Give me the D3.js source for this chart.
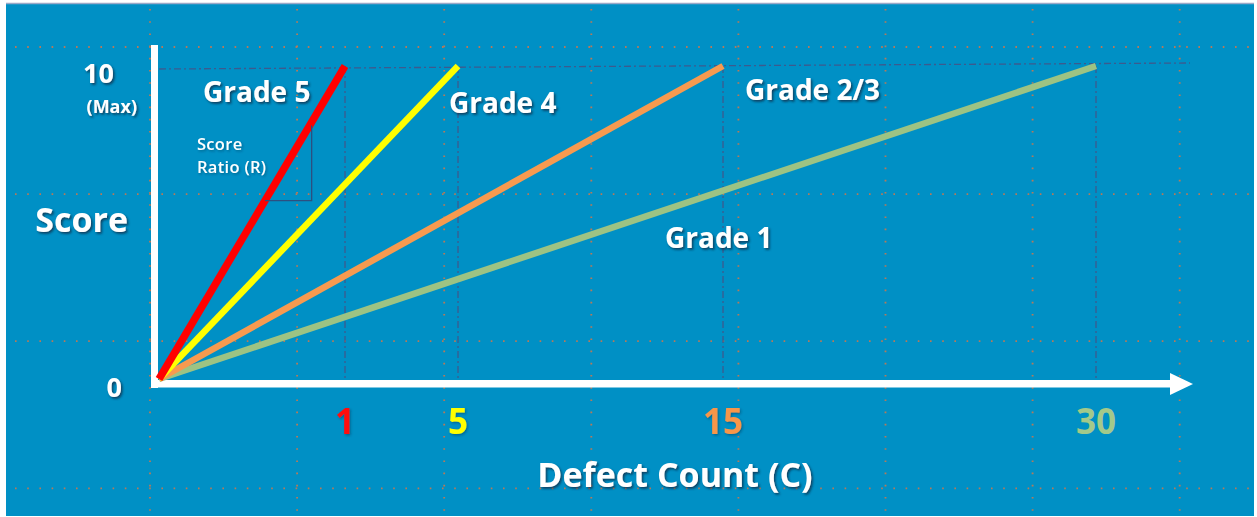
<!DOCTYPE html>
<html>
<head>
<meta charset="utf-8">
<script src="https://cdn.jsdelivr.net/npm/d3@7"></script>
<style>
  html, body { margin: 0; padding: 0; background: #ffffff; }
  svg { display: block; }
  text { font-family: "Open Sans", Lato, sans-serif; }
</style>
</head>
<body>
<svg id="chart" width="1257" height="517"></svg>
<script>
// Grades and the defect count at which each one reaches the maximum score
const grades = ["Grade 5", "Grade 4", "Grade 2/3", "Grade 1"];
const maxDefects = [1, 5, 15, 30];
const maxScore = 10;
const scoreTicks = ["0", "10"];
const gradeColors = ["#ff0000", "#ffff00", "#f79a4f", "#9dc383"];
const tickColors = ["#ff1010", "#ffff00", "#f7964a", "#a3c98a"];

const W = 1257, H = 517;
const svg = d3.select("#chart");

// Defect axis is stretched per segment so each grade gets its own stop
const x = d3.scaleLinear().domain([0, ...maxDefects]).range([159, 345, 458, 723, 1096]);
const y = d3.scaleLinear().domain([0, maxScore]).range([379, 66]);

const defs = svg.append("defs");
const shadow = defs.append("filter").attr("id", "shadow")
  .attr("x", "-20%").attr("y", "-20%").attr("width", "140%").attr("height", "160%");
shadow.append("feDropShadow").attr("dx", 1.6).attr("dy", 1.8)
  .attr("stdDeviation", 1.1).attr("flood-color", "#0b2540").attr("flood-opacity", 0.75);
const softShadow = defs.append("filter").attr("id", "softShadow")
  .attr("x", "-20%").attr("y", "-20%").attr("width", "140%").attr("height", "160%");
softShadow.append("feDropShadow").attr("dx", 1.2).attr("dy", 1.4)
  .attr("stdDeviation", 1).attr("flood-color", "#0b2540").attr("flood-opacity", 0.4);

// Panel
svg.append("rect").attr("x", 0).attr("y", 0).attr("width", W).attr("height", H).attr("fill", "#ffffff");
svg.append("rect").attr("x", 6).attr("y", 4).attr("width", W - 9).attr("height", H - 5)
  .attr("fill", "#0090c5");
svg.append("line").attr("x1", 6).attr("x2", W - 3).attr("y1", 3.5).attr("y2", 3.5)
  .attr("stroke", "#9aa8c8").attr("stroke-width", 1.5);

// Dotted drawing grid
const gridStep = 147.1;
const grid = svg.append("g").attr("stroke", "#e8743c").attr("stroke-width", 1.8)
  .attr("stroke-dasharray", "1.6 10.6").attr("opacity", 0.8);
d3.range(0, 9).map(i => 150 + (i - 1) * gridStep).filter(v => v > 8 && v < W - 5).forEach(v => {
  grid.append("line").attr("x1", v).attr("x2", v).attr("y1", 9).attr("y2", H - 2);
});
d3.range(0, 4).map(i => 47 + i * gridStep).forEach(v => {
  grid.append("line").attr("x1", 15).attr("x2", W - 4).attr("y1", v).attr("y2", v);
});

// Guides at the maximum score and each grade's defect limit
const guides = svg.append("g").attr("stroke", "#3c5a8e").attr("stroke-width", 1.3)
  .attr("stroke-dasharray", "7 3 2 3").attr("fill", "none");
guides.append("line").attr("x1", x(0)).attr("x2", 1190)
  .attr("y1", y(maxScore) + 3).attr("y2", y(maxScore) - 3);
maxDefects.forEach(c => {
  guides.append("line").attr("x1", x(c)).attr("x2", x(c))
    .attr("y1", y(maxScore)).attr("y2", y(0) + 6);
});

// Axes
const axisG = svg.append("g").attr("fill", "#ffffff");
axisG.append("rect").attr("x", 151).attr("y", 45).attr("width", 7).attr("height", y(0) + 9 - 45);
axisG.append("rect").attr("x", 151).attr("y", 380).attr("width", 1172 - 151).attr("height", 7.5);
axisG.append("path").attr("d", "M1170,373 L1193,384 L1170,395 Z");

// Score lines, one per grade
const lineGen = d3.line().x(d => x(d[0])).y(d => y(d[1]));
const lines = svg.append("g").attr("fill", "none").attr("stroke-linecap", "butt");
const order = [3, 2, 1, 0];
order.forEach(i => {
  lines.append("path")
    .attr("d", lineGen([[0, 0], [maxDefects[i], maxScore]]))
    .attr("stroke", gradeColors[i])
    .attr("stroke-width", i === 0 ? 7.5 : 6.5);
});

// Rise/run triangle on the Grade 5 line
const ratioTop = 8.1, ratioBottom = 5.7;
const cAt = s => s / maxScore * maxDefects[0];
svg.append("path")
  .attr("d", `M${x(cAt(ratioTop)) + 2},${y(ratioTop)} L${x(cAt(ratioTop)) + 2},${y(ratioBottom)} L${x(cAt(ratioBottom))},${y(ratioBottom)}`)
  .attr("fill", "none").attr("stroke", "#2d4f80").attr("stroke-width", 1.3);
const ratioText = svg.append("text").attr("fill", "#ffffff").attr("font-size", 16.5)
  .attr("font-weight", 600).attr("filter", "url(#softShadow)").style("letter-spacing", "0.3px");
ratioText.append("tspan").attr("x", 197).attr("y", 150).text("Score");
ratioText.append("tspan").attr("x", 197).attr("y", 173).text("Ratio (R)");

// Grade labels
const labelSpots = [[203, 102], [449, 113], [745, 100], [665, 248]];
svg.append("g").selectAll("text").data(grades).join("text")
  .attr("x", (d, i) => labelSpots[i][0]).attr("y", (d, i) => labelSpots[i][1])
  .attr("fill", "#ffffff").attr("font-size", 28).attr("font-weight", 700)
  .attr("filter", "url(#shadow)").text(d => d);

// Score axis labels
const yLab = svg.append("g").attr("fill", "#ffffff").attr("font-weight", 700)
  .attr("text-anchor", "end").attr("filter", "url(#shadow)");
yLab.append("text").attr("x", 114).attr("y", y(+scoreTicks[1]) + 17).attr("font-size", 27).text(scoreTicks[1]);
yLab.append("text").attr("x", 137).attr("y", y(+scoreTicks[1]) + 47).attr("font-size", 18).text("(Max)");
yLab.append("text").attr("x", 122).attr("y", y(+scoreTicks[0]) + 18).attr("font-size", 27).text(scoreTicks[0]);
yLab.append("text").attr("x", 128).attr("y", 232).attr("font-size", 34).text("Score");

// Defect count ticks, coloured by grade
svg.append("g").selectAll("text").data(maxDefects).join("text")
  .attr("x", d => x(d)).attr("y", 434)
  .attr("text-anchor", "middle").attr("font-size", 35).attr("font-weight", 700)
  .attr("fill", (d, i) => tickColors[i])
  .attr("filter", (d, i) => i < 3 ? "url(#softShadow)" : null)
  .text(d => d);

svg.append("text").attr("x", 675).attr("y", 487).attr("text-anchor", "middle")
  .attr("fill", "#ffffff").attr("font-size", 34).attr("font-weight", 700)
  .attr("filter", "url(#shadow)").text("Defect Count (C)");
</script>
</body>
</html>
